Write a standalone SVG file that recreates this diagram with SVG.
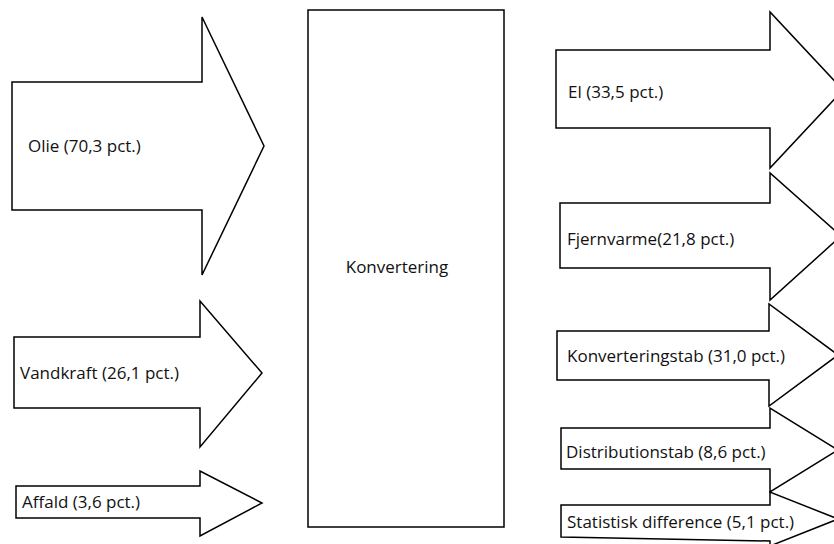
<svg xmlns="http://www.w3.org/2000/svg" width="834" height="544" viewBox="0 0 834 544">
<style>
.arrow{fill:#fff;stroke:#000;stroke-width:1.5;stroke-linejoin:miter}
.box{fill:#fff;stroke:#000;stroke-width:1.5}
.lbl{font-family:"Open Sans","Noto Sans",sans-serif;font-size:17px;fill:#111}
</style>
<rect width="834" height="544" fill="#fff"/>
<g id="connectors"></g>
<g id="olie">
<polygon class="arrow" points="12,82 202,82 202,17 264,146 202,275 202,210 12,210"/>
<text class="lbl" x="28" y="152">Olie (70,3 pct.)</text>
</g>
<g id="vandkraft">
<polygon class="arrow" points="14,337 200,337 200,301 262,373 200,447 200,408 14,408"/>
<text class="lbl" x="20" y="379">Vandkraft (26,1 pct.)</text>
</g>
<g id="affald">
<polygon class="arrow" points="16,486 200,486 200,471 262,503 200,536 200,518 16,518"/>
<text class="lbl" x="22" y="508">Affald (3,6 pct.)</text>
</g>
<g id="konvertering">
<rect class="box" x="308" y="10" width="196" height="517"/>
<text class="lbl" x="397" y="273" text-anchor="middle">Konvertering</text>
</g>
<g id="el">
<polygon class="arrow" points="556,50 770,50 770,12 843,90 770,168 770,128 556,128"/>
<text class="lbl" x="568" y="98">El (33,5 pct.)</text>
</g>
<g id="fjernvarme">
<polygon class="arrow" points="560,203 770,203 770,173 841,236 770,300 770,268 560,268"/>
<text class="lbl" x="567" y="245">Fjernvarme(21,8 pct.)</text>
</g>
<g id="konverteringstab">
<polygon class="arrow" points="557,331 769,331 769,304 838,355 769,406 769,380 557,380"/>
<text class="lbl" x="567" y="362">Konverteringstab (31,0 pct.)</text>
</g>
<g id="distributionstab">
<polygon class="arrow" points="561,428 770,428 770,408 838,450 770,492 770,469 561,469"/>
<text class="lbl" x="566" y="458">Distributionstab (8,6 pct.)</text>
</g>
<g id="statistisk">
<polygon class="arrow" points="561,505 770,505 770,492 838,519 770,546 770,541 561,537"/>
<text class="lbl" x="567" y="528">Statistisk difference (5,1 pct.)</text>
</g>
</svg>
